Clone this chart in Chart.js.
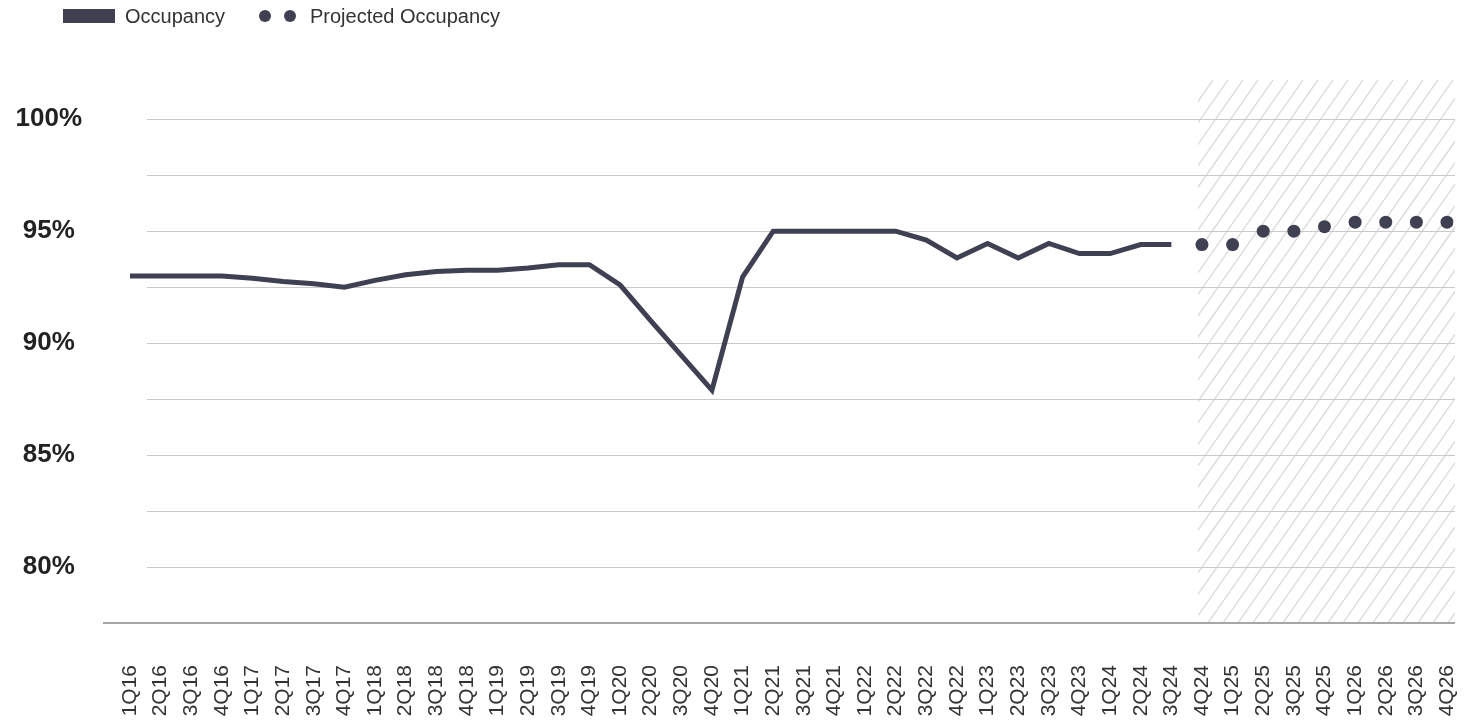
<!DOCTYPE html>
<html>
<head>
<meta charset="utf-8">
<script src="https://cdn.jsdelivr.net/npm/chart.js@4/dist/chart.umd.min.js"></script>
<style>
  html, body { margin: 0; padding: 0; background: #ffffff; }
  #wrap { position: relative; width: 1472px; height: 724px; font-family: "Liberation Sans", Arial, sans-serif; }
  #chart { position: absolute; left: 0; top: 0; }
  .legend { position: absolute; top: 4px; left: 0; height: 24px; font-size: 20px; color: #333; }
  .item { position: absolute; top: 0; white-space: nowrap; line-height: 24px; }
  .rect { position: absolute; width: 52px; height: 14px; background: #3f4152; top: 5px; }
  .dot { position: absolute; width: 12px; height: 12px; border-radius: 50%; background: #3f4152; top: 6px; }
</style>
</head>
<body>
<div id="wrap">
  <canvas id="chart" width="1472" height="724"></canvas>
  <div class="legend">
    <div class="rect" style="left:63px"></div>
    <div class="item" style="left:125px">Occupancy</div>
    <div class="dot" style="left:259px"></div>
    <div class="dot" style="left:284px"></div>
    <div class="item" style="left:310px">Projected Occupancy</div>
  </div>
</div>
<script>
const categories = [
  '1Q16','2Q16','3Q16','4Q16','1Q17','2Q17','3Q17','4Q17',
  '1Q18','2Q18','3Q18','4Q18','1Q19','2Q19','3Q19','4Q19',
  '1Q20','2Q20','3Q20','4Q20','1Q21','2Q21','3Q21','4Q21',
  '1Q22','2Q22','3Q22','4Q22','1Q23','2Q23','3Q23','4Q23',
  '1Q24','2Q24','3Q24','4Q24','1Q25','2Q25','3Q25','4Q25',
  '1Q26','2Q26','3Q26','4Q26'
];
const occupancy = [
  93.0, 93.0, 93.0, 93.0, 92.9, 92.75, 92.65, 92.5,
  92.8, 93.05, 93.2, 93.25, 93.25, 93.35, 93.5, 93.5,
  92.6, 91.0, 89.45, 87.9, 92.95, 95.0, 95.0, 95.0,
  95.0, 95.0, 94.6, 93.8, 94.45, 93.8, 94.45, 94.0,
  94.0, 94.4, 94.4, null, null, null, null, null,
  null, null, null, null
];
const projectedOccupancy = [
  null, null, null, null, null, null, null, null,
  null, null, null, null, null, null, null, null,
  null, null, null, null, null, null, null, null,
  null, null, null, null, null, null, null, null,
  null, null, null, 94.4, 94.4, 95.0, 95.0, 95.2,
  95.4, 95.4, 95.4, 95.4
];
const yTickValues = [77.5, 80, 82.5, 85, 87.5, 90, 92.5, 95, 97.5, 100];
const projectionStart = '4Q24';

const DARK = '#3f4152';

const backdropPlugin = {
  id: 'backdrop',
  beforeDatasetsDraw(chart) {
    const { ctx, chartArea, scales } = chart;
    const xs = scales.x, ys = scales.y;
    const top = chartArea.top, bottom = chartArea.bottom;
    const right = chartArea.right + 8;
    // hatched projection region
    const x0 = xs.getPixelForValue(categories.indexOf(projectionStart)) - 4;
    ctx.save();
    ctx.beginPath();
    ctx.rect(x0, top, right - x0, bottom - top);
    ctx.clip();
    ctx.strokeStyle = '#d6d6d6';
    ctx.lineWidth = 1.2;
    const h = bottom - top;
    const slope = 0.7;
    for (let x = x0 - h * slope; x < right + 20; x += 15) {
      ctx.beginPath();
      ctx.moveTo(x, bottom);
      ctx.lineTo(x + h * slope, top);
      ctx.stroke();
    }
    ctx.restore();
    // grid lines
    ctx.save();
    ctx.strokeStyle = '#c9c9c9';
    ctx.lineWidth = 1;
    ys.ticks.forEach(t => {
      if (t.value <= ys.min) return;
      const y = Math.round(ys.getPixelForValue(t.value)) + 0.5;
      ctx.beginPath();
      ctx.moveTo(chartArea.left + 17, y);
      ctx.lineTo(right, y);
      ctx.stroke();
    });
    // bottom axis line
    ctx.strokeStyle = '#a6a6a6';
    ctx.lineWidth = 2;
    const yb = Math.round(ys.getPixelForValue(ys.min));
    ctx.beginPath();
    ctx.moveTo(chartArea.left - 27, yb);
    ctx.lineTo(right, yb);
    ctx.stroke();
    ctx.restore();
  }
};

new Chart(document.getElementById('chart'), {
  type: 'line',
  data: {
    labels: categories,
    datasets: [
      {
        label: 'Occupancy',
        data: occupancy,
        borderColor: DARK,
        backgroundColor: DARK,
        borderWidth: 5,
        tension: 0,
        pointRadius: 0,
        spanGaps: false
      },
      {
        label: 'Projected Occupancy',
        data: projectedOccupancy,
        showLine: false,
        borderColor: DARK,
        backgroundColor: DARK,
        pointRadius: 6.5,
        pointBorderWidth: 0
      }
    ]
  },
  plugins: [backdropPlugin],
  options: {
    responsive: false,
    devicePixelRatio: 1,
    animation: false,
    layout: { padding: { top: 80, left: 0, right: 25, bottom: 0 } },
    plugins: {
      legend: { display: false },
      tooltip: { enabled: false }
    },
    scales: {
      x: {
        type: 'category',
        offset: false,
        grid: { display: false, drawTicks: false },
        border: { display: false },
        ticks: {
          autoSkip: false,
          minRotation: 90,
          maxRotation: 90,
          padding: 42,
          color: '#333333',
          font: { family: '"Liberation Sans", Arial, sans-serif', size: 21 }
        },
        afterFit(s) { s.height = 101; s.paddingLeft = 0; s.paddingRight = 0; }
      },
      y: {
        min: 77.5,
        max: 101.75,
        grid: { display: false, drawTicks: false },
        border: { display: false },
        afterBuildTicks(s) { s.ticks = yTickValues.map(v => ({ value: v })); },
        ticks: {
          crossAlign: 'center',
          padding: 48,
          color: '#222222',
          font: { family: '"Liberation Sans", Arial, sans-serif', size: 26, weight: 'bold' },
          callback: (v) => (v % 5 === 0 ? v + '%' : '')
        },
        afterFit(s) { s.width = 130; }
      }
    }
  }
});
</script>
</body>
</html>
